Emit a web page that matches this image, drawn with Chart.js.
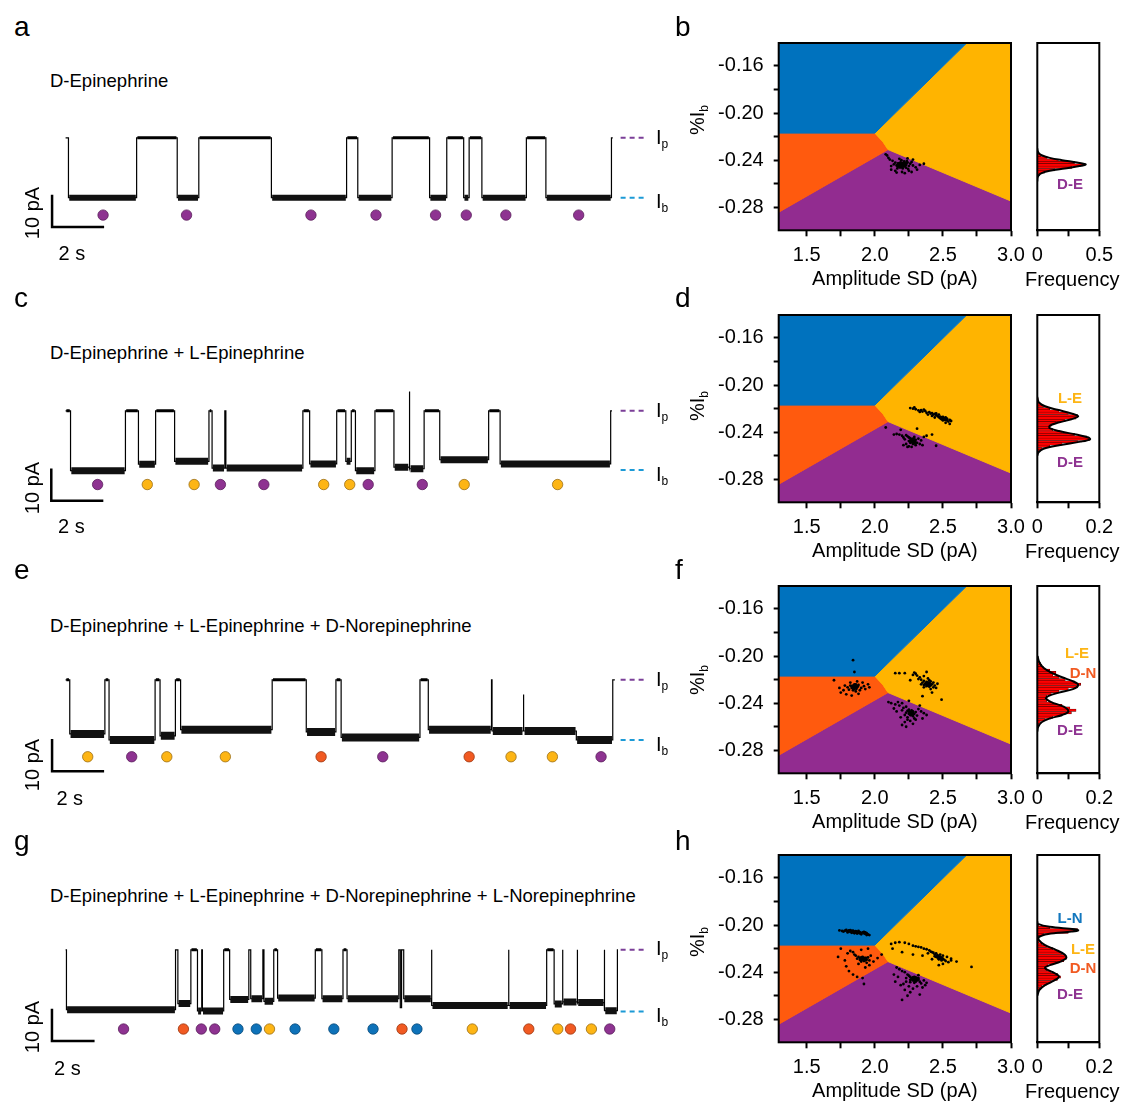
<!DOCTYPE html>
<html>
<head>
<meta charset="utf-8">
<script src="https://cdn.jsdelivr.net/npm/chart.js@4.4.1/dist/chart.umd.min.js"></script>
<style>
  body { margin:0; background:#fff; width:1126px; height:1106px; position:relative; overflow:hidden;
         font-family:"Liberation Sans", Arial, sans-serif; color:#000; }
  canvas { position:absolute; }
  .t { position:absolute; white-space:nowrap; line-height:1; }
  .sb { position:relative; top:0.35em; font-size:0.6em; }
</style>
</head>
<body>
<script>
// ---------- current traces (change times in s, level in pA relative to open pore) ----------
const traceA_t = [0, 0.11, 2.73, 4.29, 5.12, 7.91, 10.80, 11.23, 12.55, 13.99, 14.65, 15.30, 15.51, 16.00, 17.71, 18.46, 20.98, 21.03];
const traceA_i = [0, -18.6, 0, -18.6, 0, -18.6, 0, -18.6, 0, -18.6, 0, -18.6, 0, -18.6, 0, -18.6, 0, 0];
const traceC_t = [0, 0.19, 2.30, 2.80, 3.46, 4.19, 5.51, 5.63, 6.12, 6.16, 9.12, 9.38, 10.42, 10.77, 10.98, 11.14, 11.89, 12.62, 13.20, 13.23, 13.78, 14.38, 16.26, 16.70, 20.95, 21.00];
const traceC_i = [0, -18.6, 0, -16.6, 0, -15.7, 0, -17.8, 0, -17.8, 0, -16.5, 0, -15.7, 0, -18.6, 0, -17.5, 6.0, -18.0, 0, -15.2, 0, -16.5, 0, 0];
const traceE_t = [0, 0.16, 1.51, 1.67, 3.44, 3.63, 4.22, 4.42, 7.94, 9.25, 10.39, 10.59, 13.62, 13.94, 16.37, 16.39, 17.59, 17.61, 19.63, 21.03, 21.11];
const traceE_i = [0, -16.8, 0, -18.7, 0, -17.4, 0, -15.5, 0, -16.2, 0, -17.9, 0, -15.5, 0, -15.9, -4.6, -15.9, -18.7, 0, 0];
const traceG_t = [0, 0.04, 5.16, 5.27, 5.88, 6.19, 6.39, 6.42, 7.42, 7.70, 8.60, 8.69, 9.26, 9.31, 9.77, 9.95, 11.72, 12.03, 13.02, 13.21,
                  15.64, 15.71, 15.77, 15.87, 17.17, 17.19, 20.78, 20.81, 22.58, 22.93, 23.32, 23.34, 24.01, 24.03, 25.28, 25.30, 25.90, 25.93];
const traceG_i = [0, -18.6, 0, -16.7, 0, -19.0, 0, -19.0, 0, -15.4, 0, -15.2, 0, -16.0, 0, -15.0, 0, -15.2, 0, -15.2,
                  0, -18.0, 0, -15.2, 0, -17.3, 0, -17.3, 0, -16.8, 0, -16.2, 0, -16.4, 0, -18.9, 0, 0];

// ---------- event markers (time in s, assigned analyte) ----------
const dotsA_t = [1.44, 4.65, 9.43, 11.93, 14.22, 15.40, 16.92, 19.72];
const dotsA_id = ['DE','DE','DE','DE','DE','DE','DE','DE'];
const dotsC_t = [1.23, 3.14, 4.94, 5.95, 7.62, 9.92, 10.92, 11.63, 13.71, 15.32, 18.91];
const dotsC_id = ['DE','LE','LE','DE','DE','LE','LE','DE','DE','LE','LE'];
const dotsE_t = [0.85, 2.54, 3.89, 6.14, 9.82, 12.19, 15.51, 17.12, 18.71, 20.58];
const dotsE_id = ['LE','DE','LE','LE','DN','DE','DN','LE','LE','DE'];
const dotsG_t = [2.72, 5.53, 6.37, 7.00, 8.09, 8.95, 9.57, 10.77, 12.59, 14.43, 15.79, 16.49, 19.09, 21.74, 23.10, 23.70, 24.68, 25.54];
const dotsG_id = ['DE','DN','DE','DE','LN','LN','LE','LN','LN','LN','DN','LN','LE','DN','LE','DN','LE','DE'];

// ---------- classifier regions (Amplitude SD, %Ib) ----------
const X_MIN = 1.294, X_MAX = 3.0, Y_MIN = -0.2995, Y_MAX = -0.1405;
const regionLN = [[X_MIN, Y_MAX], [2.675, Y_MAX], [2.0, -0.217], [X_MIN, -0.217]];
const regionLE = [[2.675, Y_MAX], [X_MAX, Y_MAX], [X_MAX, -0.2747], [2.097, -0.231], [2.06, -0.2245], [2.0, -0.217]];
const regionDN = [[X_MIN, -0.217], [2.0, -0.217], [2.06, -0.2245], [2.097, -0.231], [X_MIN, -0.2842]];
const regionDE = [[X_MIN, -0.2842], [2.097, -0.231], [X_MAX, -0.2747], [X_MAX, Y_MIN], [X_MIN, Y_MIN]];

// ---------- scatter events (x, y pairs) ----------
const ptsB_DE = [2.20,-0.2432, 2.18,-0.2440, 2.22,-0.2425, 2.19,-0.2418, 2.21,-0.2448, 2.23,-0.2438, 2.17,-0.2428, 2.20,-0.2455, 2.24,-0.2420, 2.16,-0.2445,
  2.215,-0.2410, 2.185,-0.2462, 2.25,-0.2450, 2.15,-0.2420, 2.205,-0.2470, 2.195,-0.2400, 2.23,-0.2465, 2.17,-0.2455, 2.26,-0.2430, 2.14,-0.2435,
  2.21,-0.2440, 2.19,-0.2435, 2.20,-0.2445, 2.22,-0.2452, 2.18,-0.2425, 2.235,-0.2408, 2.165,-0.2470, 2.245,-0.2475, 2.13,-0.2405, 2.28,-0.2445,
  2.12,-0.2450, 2.27,-0.2415, 2.10,-0.2380, 2.09,-0.2360, 2.11,-0.2395, 2.30,-0.2460, 2.33,-0.2440, 2.36,-0.2430, 2.25,-0.2490, 2.20,-0.2500,
  2.15,-0.2490, 2.12,-0.2480, 2.28,-0.2395, 2.24,-0.2385, 2.18,-0.2388, 2.08,-0.2350, 2.31,-0.2480, 2.22,-0.2510, 2.16,-0.2505, 2.27,-0.2500,
  2.195,-0.2438, 2.205,-0.2442, 2.19,-0.2447, 2.21,-0.2433, 2.20,-0.2428, 2.215,-0.2450, 2.185,-0.2432, 2.225,-0.2444, 2.175,-0.2440, 2.20,-0.2460,
  2.21,-0.2422, 2.19,-0.2455, 2.23,-0.2430, 2.17,-0.2448, 2.205,-0.2436, 2.195,-0.2450];
const ptsD_LE = [2.26,-0.2195, 2.28,-0.2200, 2.30,-0.2205, 2.32,-0.2215, 2.34,-0.2212, 2.35,-0.2225, 2.37,-0.2220, 2.38,-0.2235, 2.40,-0.2230, 2.41,-0.2242,
  2.42,-0.2238, 2.43,-0.2250, 2.44,-0.2245, 2.45,-0.2255, 2.46,-0.2262, 2.47,-0.2250, 2.48,-0.2268, 2.49,-0.2275, 2.50,-0.2270, 2.50,-0.2285,
  2.51,-0.2280, 2.51,-0.2295, 2.52,-0.2275, 2.52,-0.2290, 2.53,-0.2300, 2.53,-0.2285, 2.54,-0.2310, 2.55,-0.2295, 2.49,-0.2290, 2.48,-0.2282,
  2.47,-0.2272, 2.50,-0.2300, 2.52,-0.2320, 2.55,-0.2330, 2.45,-0.2240, 2.39,-0.2250, 2.33,-0.2228, 2.29,-0.2190, 2.44,-0.2275, 2.56,-0.2305,
  2.42,-0.2262, 2.36,-0.2208,
  2.49,-0.2280, 2.50,-0.2278, 2.51,-0.2288, 2.505,-0.2292, 2.495,-0.2284, 2.515,-0.2282, 2.52,-0.2298, 2.48,-0.2275, 2.50,-0.2292, 2.53,-0.2292];
const ptsD_DE = [2.27,-0.2460, 2.28,-0.2470, 2.26,-0.2450, 2.29,-0.2480, 2.25,-0.2445, 2.30,-0.2465, 2.24,-0.2435, 2.31,-0.2490, 2.23,-0.2425, 2.28,-0.2500,
  2.26,-0.2490, 2.32,-0.2455, 2.22,-0.2460, 2.29,-0.2440, 2.27,-0.2485, 2.30,-0.2510, 2.25,-0.2520, 2.33,-0.2500, 2.20,-0.2430, 2.18,-0.2420,
  2.16,-0.2415, 2.14,-0.2420, 2.21,-0.2510, 2.24,-0.2525, 2.27,-0.2525, 2.34,-0.2470, 2.36,-0.2440, 2.38,-0.2430, 2.42,-0.2420, 2.45,-0.2515,
  2.08,-0.2360, 2.19,-0.2380, 2.31,-0.2370, 2.26,-0.2470, 2.28,-0.2455, 2.29,-0.2495, 2.25,-0.2475, 2.23,-0.2500, 2.35,-0.2510, 2.21,-0.2445,
  2.27,-0.2472, 2.28,-0.2478, 2.29,-0.2470, 2.285,-0.2485, 2.275,-0.2465, 2.295,-0.2482, 2.265,-0.2478, 2.28,-0.2490, 2.29,-0.2460, 2.30,-0.2488];
const ptsF_DN = [1.84,-0.2260, 1.86,-0.2255, 1.83,-0.2270, 1.85,-0.2275, 1.87,-0.2265, 1.82,-0.2250, 1.88,-0.2245, 1.80,-0.2265, 1.90,-0.2270, 1.85,-0.2240,
  1.84,-0.2290, 1.86,-0.2300, 1.81,-0.2285, 1.89,-0.2290, 1.78,-0.2250, 1.92,-0.2255, 1.77,-0.2290, 1.93,-0.2280, 1.75,-0.2310, 1.95,-0.2240,
  1.79,-0.2325, 1.88,-0.2320, 1.83,-0.2335, 1.70,-0.2205, 1.96,-0.2265, 1.74,-0.2270, 1.87,-0.2215, 1.84,-0.2035, 1.85,-0.2135, 1.82,-0.2225,
  1.91,-0.2225, 1.86,-0.2240, 1.84,-0.2250, 1.85,-0.2265, 1.83,-0.2255,
  1.845,-0.2262, 1.855,-0.2258, 1.86,-0.2268, 1.84,-0.2272, 1.85,-0.2280, 1.865,-0.2278, 1.835,-0.2262, 1.875,-0.2255];
const ptsF_LE = [2.38,-0.2220, 2.40,-0.2230, 2.36,-0.2210, 2.39,-0.2245, 2.41,-0.2215, 2.37,-0.2235, 2.42,-0.2240, 2.35,-0.2225, 2.43,-0.2225, 2.34,-0.2200,
  2.38,-0.2255, 2.40,-0.2260, 2.44,-0.2250, 2.33,-0.2180, 2.31,-0.2165, 2.30,-0.2150, 2.28,-0.2160, 2.36,-0.2170, 2.39,-0.2190, 2.32,-0.2195,
  2.45,-0.2270, 2.41,-0.2280, 2.36,-0.2265, 2.46,-0.2235, 2.29,-0.2140, 2.22,-0.2145, 2.18,-0.2145, 2.15,-0.2145, 2.26,-0.2205, 2.49,-0.2370,
  2.42,-0.2310, 2.35,-0.2340, 2.38,-0.2135, 2.40,-0.2205, 2.37,-0.2240, 2.39,-0.2225, 2.41,-0.2250, 2.36,-0.2245, 2.43,-0.2265, 2.34,-0.2240,
  2.385,-0.2232, 2.395,-0.2238, 2.38,-0.2242, 2.40,-0.2245, 2.39,-0.2225, 2.405,-0.2232, 2.375,-0.2228, 2.41,-0.2238];
const ptsF_DE = [2.26,-0.2475, 2.27,-0.2480, 2.25,-0.2490, 2.28,-0.2470, 2.24,-0.2465, 2.26,-0.2500, 2.29,-0.2490, 2.23,-0.2480, 2.27,-0.2460, 2.25,-0.2455,
  2.30,-0.2475, 2.22,-0.2500, 2.28,-0.2510, 2.24,-0.2520, 2.31,-0.2505, 2.20,-0.2460, 2.21,-0.2440, 2.18,-0.2420, 2.15,-0.2410, 2.12,-0.2400,
  2.10,-0.2390, 2.17,-0.2390, 2.20,-0.2400, 2.25,-0.2380, 2.23,-0.2430, 2.32,-0.2450, 2.34,-0.2470, 2.36,-0.2485, 2.38,-0.2500, 2.35,-0.2530,
  2.30,-0.2540, 2.26,-0.2550, 2.22,-0.2560, 2.20,-0.2585, 2.23,-0.2600, 2.28,-0.2575, 2.19,-0.2520, 2.16,-0.2470, 2.26,-0.2485, 2.27,-0.2490,
  2.25,-0.2470, 2.29,-0.2530, 2.33,-0.2420, 2.14,-0.2445, 2.24,-0.2540,
  2.265,-0.2482, 2.27,-0.2488, 2.26,-0.2492, 2.275,-0.2495, 2.255,-0.2485, 2.28,-0.2482, 2.265,-0.2500, 2.27,-0.2475, 2.26,-0.2478, 2.28,-0.2495];
const ptsH_LN = [1.74,-0.2045, 1.76,-0.2050, 1.78,-0.2048, 1.80,-0.2052, 1.81,-0.2045, 1.82,-0.2058, 1.83,-0.2050, 1.84,-0.2060, 1.85,-0.2055, 1.86,-0.2062,
  1.87,-0.2058, 1.88,-0.2065, 1.89,-0.2060, 1.90,-0.2068, 1.91,-0.2062, 1.92,-0.2070, 1.93,-0.2075, 1.94,-0.2068, 1.95,-0.2080, 1.96,-0.2085,
  1.84,-0.2048, 1.86,-0.2052, 1.83,-0.2065, 1.85,-0.2070, 1.79,-0.2040, 1.88,-0.2050, 1.92,-0.2058, 1.80,-0.2062, 1.87,-0.2072, 1.90,-0.2078,
  1.77,-0.2055, 1.93,-0.2062, 1.82,-0.2042, 1.89,-0.2070, 1.94,-0.2085,
  1.85,-0.2060, 1.86,-0.2058, 1.87,-0.2062, 1.88,-0.2058, 1.84,-0.2055];
const ptsH_DN = [1.91,-0.2285, 1.92,-0.2290, 1.90,-0.2275, 1.93,-0.2280, 1.89,-0.2295, 1.94,-0.2295, 1.88,-0.2270, 1.95,-0.2275, 1.92,-0.2305, 1.90,-0.2310,
  1.87,-0.2285, 1.96,-0.2300, 1.86,-0.2260, 1.97,-0.2260, 1.85,-0.2250, 1.84,-0.2230, 1.82,-0.2220, 1.80,-0.2240, 1.78,-0.2300, 1.79,-0.2350,
  1.81,-0.2390, 1.84,-0.2420, 1.87,-0.2440, 1.91,-0.2450, 1.93,-0.2360, 1.96,-0.2340, 1.99,-0.2310, 2.02,-0.2280, 2.05,-0.2250, 1.95,-0.2200,
  1.90,-0.2210, 1.75,-0.2200, 1.73,-0.2270, 1.92,-0.2500, 1.88,-0.2330, 1.94,-0.2320, 1.91,-0.2270, 1.93,-0.2300, 1.89,-0.2280, 1.92,-0.2280,
  1.915,-0.2285, 1.91,-0.2292, 1.92,-0.2278, 1.925,-0.2295, 1.905,-0.2282, 1.93,-0.2288, 1.90,-0.2295, 1.92,-0.2300, 1.91,-0.2278, 1.935,-0.2278];
const ptsH_LE = [2.44,-0.2250, 2.46,-0.2255, 2.47,-0.2265, 2.45,-0.2240, 2.48,-0.2270, 2.43,-0.2235, 2.49,-0.2280, 2.42,-0.2230, 2.50,-0.2285, 2.41,-0.2225,
  2.47,-0.2290, 2.49,-0.2300, 2.51,-0.2295, 2.52,-0.2305, 2.46,-0.2275, 2.44,-0.2265, 2.40,-0.2215, 2.38,-0.2205, 2.36,-0.2200, 2.34,-0.2190,
  2.32,-0.2185, 2.30,-0.2180, 2.28,-0.2175, 2.25,-0.2160, 2.22,-0.2150, 2.18,-0.2145, 2.15,-0.2150, 2.12,-0.2160, 2.13,-0.2200, 2.20,-0.2230,
  2.28,-0.2250, 2.35,-0.2260, 2.42,-0.2290, 2.54,-0.2315, 2.56,-0.2300, 2.60,-0.2310, 2.71,-0.2355, 2.50,-0.2330, 2.47,-0.2340, 2.53,-0.2270,
  2.48,-0.2250, 2.45,-0.2270, 2.50,-0.2260, 2.39,-0.2240, 2.56,-0.2285,
  2.465,-0.2270, 2.475,-0.2278, 2.48,-0.2282, 2.47,-0.2288, 2.485,-0.2275, 2.49,-0.2292, 2.46,-0.2262, 2.495,-0.2288];
const ptsH_DE = [2.28,-0.2450, 2.29,-0.2460, 2.30,-0.2445, 2.27,-0.2455, 2.31,-0.2465, 2.26,-0.2440, 2.32,-0.2450, 2.28,-0.2470, 2.30,-0.2475, 2.25,-0.2430,
  2.33,-0.2480, 2.24,-0.2420, 2.22,-0.2400, 2.20,-0.2390, 2.18,-0.2375, 2.16,-0.2360, 2.26,-0.2485, 2.29,-0.2490, 2.34,-0.2495, 2.36,-0.2470,
  2.38,-0.2490, 2.23,-0.2480, 2.21,-0.2500, 2.19,-0.2510, 2.25,-0.2520, 2.28,-0.2540, 2.22,-0.2550, 2.26,-0.2570, 2.20,-0.2635, 2.33,-0.2590,
  2.31,-0.2520, 2.35,-0.2530, 2.27,-0.2460, 2.29,-0.2440, 2.31,-0.2450, 2.28,-0.2445, 2.30,-0.2460, 2.14,-0.2420, 2.15,-0.2480, 2.17,-0.2440,
  2.23,-0.2450, 2.37,-0.2510, 2.24,-0.2600, 2.32,-0.2425, 2.26,-0.2465,
  2.285,-0.2458, 2.295,-0.2465, 2.29,-0.2472, 2.30,-0.2455, 2.28,-0.2465, 2.31,-0.2470, 2.275,-0.2450, 2.30,-0.2480, 2.29,-0.2448, 2.32,-0.2462];

// ---------- %Ib histograms (bin centre, frequency) and fitted curves ----------
const histB_y = [-0.232, -0.234, -0.236, -0.238, -0.240, -0.242, -0.244, -0.246, -0.248, -0.250, -0.252, -0.254];
const histB_f = [0.0, 0.01, 0.03, 0.08, 0.17, 0.30, 0.37, 0.28, 0.14, 0.06, 0.02, 0.005];
const fitB_y = [-0.230, -0.232, -0.234, -0.236, -0.238, -0.240, -0.242, -0.2435, -0.245, -0.247, -0.249, -0.251, -0.253, -0.255, -0.258];
const fitB_f = [0, 0.003, 0.012, 0.04, 0.10, 0.20, 0.32, 0.39, 0.34, 0.22, 0.10, 0.035, 0.01, 0.002, 0];
const histD_y = [-0.212, -0.214, -0.216, -0.218, -0.220, -0.222, -0.224, -0.226, -0.228, -0.230, -0.232, -0.234, -0.236, -0.238, -0.240, -0.242,
                 -0.244, -0.246, -0.248, -0.250, -0.252, -0.254, -0.256];
const histD_f = [0.003, 0.005, 0.01, 0.02, 0.04, 0.07, 0.10, 0.13, 0.125, 0.09, 0.06, 0.045, 0.04, 0.05, 0.08, 0.12,
                 0.16, 0.17, 0.13, 0.08, 0.04, 0.015, 0.005];
const fitD_y = [-0.210, -0.212, -0.215, -0.218, -0.221, -0.224, -0.2265, -0.229, -0.232, -0.2345, -0.2365, -0.239, -0.242, -0.2445, -0.246, -0.248, -0.251, -0.254, -0.257, -0.260];
const fitD_f = [0, 0.001, 0.006, 0.025, 0.065, 0.11, 0.132, 0.11, 0.065, 0.04, 0.04, 0.07, 0.125, 0.165, 0.17, 0.14, 0.07, 0.02, 0.004, 0];
const histF_y = [-0.204, -0.206, -0.208, -0.210, -0.212, -0.214, -0.216, -0.218, -0.220, -0.222, -0.224, -0.226, -0.228, -0.230, -0.232, -0.234,
                 -0.236, -0.238, -0.240, -0.242, -0.244, -0.246, -0.248, -0.250, -0.252, -0.254, -0.256, -0.258];
const histF_f = [0.005, 0.01, 0.015, 0.02, 0.04, 0.06, 0.05, 0.07, 0.09, 0.12, 0.14, 0.13, 0.10, 0.07, 0.045, 0.03,
                 0.025, 0.03, 0.05, 0.08, 0.105, 0.125, 0.11, 0.08, 0.05, 0.025, 0.01, 0.005];
const fitF_y = [-0.200, -0.205, -0.210, -0.214, -0.218, -0.222, -0.2247, -0.228, -0.231, -0.234, -0.236, -0.239, -0.243, -0.247, -0.250, -0.253, -0.256, -0.260, -0.264];
const fitF_f = [0.001, 0.006, 0.02, 0.045, 0.08, 0.12, 0.132, 0.115, 0.07, 0.035, 0.028, 0.045, 0.085, 0.10, 0.08, 0.04, 0.015, 0.003, 0];
const histH_y = [-0.200, -0.202, -0.204, -0.206, -0.208, -0.210, -0.212, -0.214, -0.216, -0.218, -0.220, -0.222, -0.224, -0.226, -0.228, -0.230,
                 -0.232, -0.234, -0.236, -0.238, -0.240, -0.242, -0.244, -0.246, -0.248, -0.250, -0.252, -0.254, -0.256];
const histH_f = [0.005, 0.04, 0.13, 0.10, 0.02, 0.005, 0.003, 0.006, 0.015, 0.03, 0.05, 0.065, 0.08, 0.09, 0.095, 0.085,
                 0.06, 0.035, 0.025, 0.03, 0.045, 0.065, 0.075, 0.065, 0.045, 0.03, 0.015, 0.008, 0.004];
const fitH_y = [-0.197, -0.199, -0.2015, -0.2035, -0.2045, -0.2055, -0.2075, -0.210, -0.213, -0.217, -0.221, -0.225, -0.228, -0.231, -0.234, -0.2365,
                -0.240, -0.2435, -0.247, -0.251, -0.255, -0.260];
const fitH_f = [0, 0.002, 0.04, 0.12, 0.132, 0.11, 0.035, 0.006, 0.006, 0.025, 0.06, 0.088, 0.093, 0.075, 0.04, 0.025,
                0.05, 0.07, 0.055, 0.025, 0.007, 0];

// ---------- styling ----------
const FONT = '"Liberation Sans", Arial, sans-serif';
const FILL = { DE: '#922C90', LE: '#FFB400', DN: '#FF5A0E', LN: '#0072BE' };
const DOT = { DE: '#8E3391', LE: '#FDB515', DN: '#F15A22', LN: '#0E72B9' };
const DOT_EDGE = { DE: '#5a1f5c', LE: '#9a6e18', DN: '#9c3712', LN: '#0a4a78' };
const LABEL = { DE: '#8E3391', LE: '#FDB515', DN: '#F15A22', LN: '#1277BE' };

Chart.defaults.font.family = FONT;
Chart.defaults.color = '#000';
Chart.defaults.animation = false;
Chart.defaults.responsive = false;
Chart.defaults.events = [];
Chart.defaults.plugins.legend.display = false;
Chart.defaults.plugins.tooltip.enabled = false;

const pairs = (a) => { const out = []; for (let k = 0; k < a.length; k += 2) out.push({ x: a[k], y: a[k + 1] }); return out; };
const poly = (p) => p.map(([x, y]) => ({ x, y }));
const zip = (ys, fs) => ys.map((y, k) => ({ x: fs[k], y }));

function mkCanvas(x, y, w, h) {
  const c = document.createElement('canvas');
  c.width = w; c.height = h;
  c.style.left = x + 'px'; c.style.top = y + 'px';
  c.style.width = w + 'px'; c.style.height = h + 'px';
  document.body.appendChild(c);
  return c;
}
function txt(html, x, base, size, css) {
  const d = document.createElement('div');
  d.className = 't';
  d.innerHTML = html;
  d.style.left = x + 'px';
  d.style.top = (base - 0.8465 * size) + 'px';
  d.style.fontSize = size + 'px';
  if (css) Object.assign(d.style, css);
  document.body.appendChild(d);
  return d;
}
function ctxt(html, cx, cy, size, rot, css) {
  const d = txt(html, cx, 0, size, css);
  d.style.top = cy + 'px';
  d.style.transform = 'translate(-50%,-50%)' + (rot ? ' rotate(-90deg)' : '');
  return d;
}

const framePlugin = {
  id: 'frame',
  afterDraw(chart) {
    const { ctx, chartArea: a } = chart;
    ctx.save();
    ctx.strokeStyle = '#000'; ctx.lineWidth = 2;
    ctx.strokeRect(a.left, a.top, a.right - a.left, a.bottom - a.top);
    ctx.restore();
  }
};
// keep the plot box where it is: no extra room for half tick labels
const noPad = (s) => { s.paddingTop = 0; s.paddingBottom = 0; s.paddingLeft = 0; s.paddingRight = 0; };

// ---------- layout per row ----------
const ROWS = [
  { ip: 135.0, pxs: 26.5, band: 6, ib: -18.6, dotY: -24.0, sbT: -0.52, sbI: -27.7, plotTop: 43.0,  pA: 213,  sX: 58.5, sBase: 260,  title: 87.3, letter: 36.7, pib: 77 },
  { ip: 408.3, pxs: 26.5, band: 7, ib: -18.4, dotY: -22.9, sbT: -0.55, sbI: -27.9, plotTop: 315.0, pA: 488,  sX: 58,   sBase: 533,  title: 360,  letter: 308,  pib: 91 },
  { ip: 677.3, pxs: 26.5, band: 8, ib: -18.7, dotY: -23.9, sbT: -0.52, sbI: -28.4, plotTop: 585.7, pA: 765,  sX: 56.4, sBase: 805,  title: 632.7, letter: 580, pib: 94 },
  { ip: 946.7, pxs: 21.7, band: 7, ib: -19.2, dotY: -24.6, sbT: -0.64, sbI: -28.3, plotTop: 855.0, pA: 1027, sX: 54,   sBase: 1075, title: 902.7, letter: 851, pib: 87 },
];
const PLOT_H = 187.3;
const PPA = 3.5;     // pixels per pA
const X0 = 60.7;     // trace start pixel

// ---------- trace panel ----------
function drawTrace(row, t, cur, dotT, dotId) {
  const W = 660, H = 150;
  const cv = mkCanvas(0, Math.round(row.ip - 40), W, H);
  const xmin = -X0 / row.pxs, xmax = (W - X0) / row.pxs;
  const ymax = 40 / PPA, ymin = -(H - 40) / PPA;

  const line = [];
  for (let k = 0; k < t.length; k++) {
    if (k > 0) line.push({ x: t[k], y: cur[k - 1] });
    line.push({ x: t[k], y: cur[k] });
  }
  const bandB = [], bandO = [];
  for (let k = 0; k < t.length - 1; k++) {
    const a = t[k], b = t[k + 1], L = cur[k];
    if (b - a < 0.12) continue;
    const arr = L === 0 ? bandO : (L < -10 ? bandB : null);
    if (!arr) continue;
    arr.push({ x: a + 0.03, y: L }, { x: b - 0.03, y: L }, { x: b, y: null });
  }
  const dots = dotT.map((v) => ({ x: v, y: row.dotY }));
  const d1 = (626 - X0) / row.pxs, d2 = (653 - X0) / row.pxs;
  const lineDs = (data, color, width, extra) => Object.assign({ data, showLine: true, borderColor: color, borderWidth: width, pointRadius: 0, spanGaps: false }, extra || {});

  new Chart(cv, {
    type: 'scatter',
    data: { datasets: [
      { data: dots, pointRadius: 5.2, pointBackgroundColor: dotId.map((k) => DOT[k]),
        pointBorderColor: dotId.map((k) => DOT_EDGE[k]), pointBorderWidth: 0.8 },
      lineDs([{ x: row.sbT, y: row.sbI + 10 }, { x: row.sbT, y: row.sbI }, { x: row.sbT + 2, y: row.sbI }], '#000', 2.5, { borderJoinStyle: 'miter' }),
      lineDs([{ x: d1, y: 0 }, { x: d2, y: 0 }], '#7B3F98', 2, { borderDash: [5, 4] }),
      lineDs([{ x: d1, y: row.ib }, { x: d2, y: row.ib }], '#1C9AD6', 2, { borderDash: [5, 4] }),
      lineDs(bandB, '#111', row.band),
      lineDs(bandO, '#000', 3),
      lineDs(line, '#000', 1.2),
    ] },
    options: {
      layout: { padding: 0 },
      scales: {
        x: { type: 'linear', display: false, min: xmin, max: xmax },
        y: { type: 'linear', display: false, min: ymin, max: ymax },
      },
    },
  });

  // text of the trace panel
  const ibPx = row.ip - row.ib * PPA;
  txt('I<span class="sb">p</span>', 656, row.ip + 8.5, 20);
  txt('I<span class="sb">b</span>', 656, ibPx + 8, 20);
  ctxt('10 pA', 32, row.pA, 20, true);
  txt('2 s', row.sX, row.sBase, 20);
}

// ---------- scatter (classifier) panel ----------
function drawScatter(row, clusters) {
  const L = 690, W = 340, H = 258;
  const cv = mkCanvas(L, Math.round(row.plotTop - 10), W, H);
  const regions = [['LN', regionLN], ['LE', regionLE], ['DN', regionDN], ['DE', regionDE]].map(([k, p]) => ({
    data: poly(p), showLine: true, fill: 'shape', backgroundColor: FILL[k], borderColor: FILL[k], borderWidth: 1, pointRadius: 0,
  }));
  const pts = clusters.map((c) => ({ data: pairs(c), pointRadius: 1.4, pointBackgroundColor: '#000', pointBorderWidth: 0 }));

  new Chart(cv, {
    type: 'scatter',
    data: { datasets: [...pts, ...regions] },
    options: {
      layout: { padding: { left: 0, top: 10, right: W - (1011 - L), bottom: 0 } },
      scales: {
        x: {
          type: 'linear', min: X_MIN, max: X_MAX,
          afterBuildTicks: (s) => { s.ticks = [1.5, 1.75, 2.0, 2.25, 2.5, 2.75, 3.0].map((v) => ({ value: v })); },
          afterFit: (s) => { s.height = H - 10 - PLOT_H; noPad(s); },
          ticks: { autoSkip: false, maxRotation: 0, padding: 7, font: { size: 20 }, color: '#000',
                   callback: (v) => (Math.abs(v * 2 - Math.round(v * 2)) < 1e-6 ? v.toFixed(1) : '') },
          grid: { drawOnChartArea: false, drawTicks: true, tickLength: 6, tickWidth: 2, tickColor: '#000' },
          border: { display: true, color: '#000', width: 2 },
          title: { display: true, text: 'Amplitude SD (pA)', font: { size: 20 }, color: '#000', padding: 0 },
        },
        y: {
          type: 'linear', min: Y_MIN, max: Y_MAX,
          afterBuildTicks: (s) => { s.ticks = [-0.28, -0.26, -0.24, -0.22, -0.20, -0.18, -0.16].map((v) => ({ value: v })); },
          afterFit: (s) => { s.width = 778.7 - L; noPad(s); },
          ticks: { autoSkip: false, padding: 10, font: { size: 20 }, color: '#000',
                   callback: (v) => (Math.round(Math.abs(v) * 100) % 4 === 0 ? v.toFixed(2) : '') },
          grid: { drawOnChartArea: false, drawTicks: true, tickLength: 5, tickWidth: 2, tickColor: '#000' },
          border: { display: true, color: '#000', width: 2 },
        },
      },
    },
    plugins: [framePlugin],
  });
  ctxt('%I<span class="sb">b</span>', 697, row.plotTop + row.pib, 20, true);
}

// ---------- histogram panel ----------
function drawHist(row, max, hy, hf, fy, ff, labels) {
  const L = 1020, W = 106, H = 258;
  const cv = mkCanvas(L, Math.round(row.plotTop - 10), W, H);
  new Chart(cv, {
    type: 'bar',
    data: { datasets: [
      { type: 'line', indexAxis: 'y', data: zip(fy, ff), borderColor: '#000', borderWidth: 2, pointRadius: 0, tension: 0.35, fill: false },
      { type: 'bar', data: zip(hy, hf), backgroundColor: '#FF0000', borderColor: '#3a0000', borderWidth: 0.5,
        barPercentage: 1, categoryPercentage: 1, grouped: false },
    ] },
    options: {
      indexAxis: 'y',
      layout: { padding: { left: 1037.3 - L, top: 10, right: W - (1099.3 - L), bottom: 0 } },
      scales: {
        y: { type: 'linear', display: false, min: Y_MIN, max: Y_MAX, offset: false },
        x: {
          type: 'linear', min: 0, max,
          afterBuildTicks: (s) => { s.ticks = [0, max / 2, max].map((v) => ({ value: v })); },
          afterFit: (s) => { s.height = H - 10 - PLOT_H; noPad(s); },
          ticks: { autoSkip: false, maxRotation: 0, padding: 7, font: { size: 20 }, color: '#000',
                   callback: (v) => (v === 0 ? '0' : (Math.abs(v - max) < 1e-9 ? String(max) : '')) },
          grid: { drawOnChartArea: false, drawTicks: true, tickLength: 6, tickWidth: 2, tickColor: '#000' },
          border: { display: true, color: '#000', width: 2 },
        },
      },
    },
    plugins: [framePlugin],
  });
  txt('Frequency', 1025, row.plotTop + PLOT_H + 56, 20);
  labels.forEach(([k, cx, cy]) => ctxt(k.replace(/^(\w)(\w)$/, '$1-$2'), cx, cy, 15, false, { color: LABEL[k], fontWeight: 'bold' }));
}

// ---------- build the figure ----------
const TITLES = [
  'D-Epinephrine',
  'D-Epinephrine + L-Epinephrine',
  'D-Epinephrine + L-Epinephrine + D-Norepinephrine',
  'D-Epinephrine + L-Epinephrine + D-Norepinephrine + L-Norepinephrine',
];
const LETTERS = [['a', 'b'], ['c', 'd'], ['e', 'f'], ['g', 'h']];

drawTrace(ROWS[0], traceA_t, traceA_i, dotsA_t, dotsA_id);
drawTrace(ROWS[1], traceC_t, traceC_i, dotsC_t, dotsC_id);
drawTrace(ROWS[2], traceE_t, traceE_i, dotsE_t, dotsE_id);
drawTrace(ROWS[3], traceG_t, traceG_i, dotsG_t, dotsG_id);

drawScatter(ROWS[0], [ptsB_DE]);
drawScatter(ROWS[1], [ptsD_LE, ptsD_DE]);
drawScatter(ROWS[2], [ptsF_DN, ptsF_LE, ptsF_DE]);
drawScatter(ROWS[3], [ptsH_LN, ptsH_DN, ptsH_LE, ptsH_DE]);

drawHist(ROWS[0], 0.5, histB_y, histB_f, fitB_y, fitB_f, [['DE', 1070, 183]]);
drawHist(ROWS[1], 0.2, histD_y, histD_f, fitD_y, fitD_f, [['LE', 1070, 396.7], ['DE', 1070, 460.7]]);
drawHist(ROWS[2], 0.2, histF_y, histF_f, fitF_y, fitF_f, [['LE', 1077, 652.3], ['DN', 1083, 672.3], ['DE', 1070, 729.3]]);
drawHist(ROWS[3], 0.2, histH_y, histH_f, fitH_y, fitH_f, [['LN', 1070, 917.3], ['LE', 1083, 948.3], ['DN', 1083, 966.7], ['DE', 1070, 993.3]]);

ROWS.forEach((row, k) => {
  txt(TITLES[k], 50, row.title, 18.5);
  txt(LETTERS[k][0], 14, row.letter, 28);
  txt(LETTERS[k][1], 675, row.letter, 28);
});
</script>
</body>
</html>
